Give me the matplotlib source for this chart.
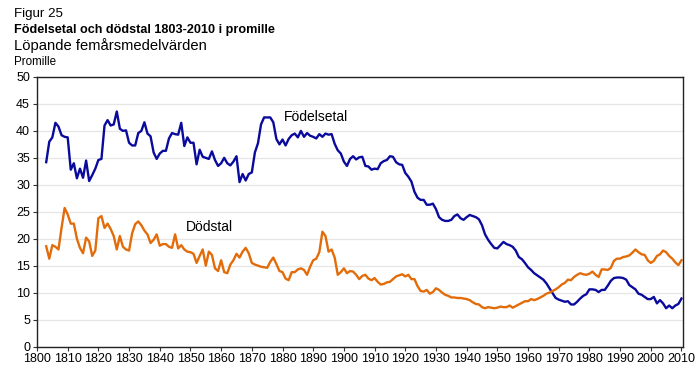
import matplotlib
matplotlib.use("Agg")
import matplotlib.pyplot as plt
import numpy as np

plt.rcParams['font.family'] = ['Liberation Sans', 'DejaVu Sans']

years = list(range(1803, 2011))

fodelsetal = [
 34.2, 38.0, 38.8, 41.5, 40.8, 39.2, 38.9, 38.8, 32.8, 34.0,  # 1803-1812
 31.2, 33.0, 31.3, 34.5, 30.7, 31.8, 33.0, 34.6, 34.8, 41.0,  # 1813-1822
 42.0, 41.0, 41.2, 43.6, 40.4, 40.0, 40.1, 37.8, 37.3, 37.3,  # 1823-1832
 39.6, 40.0, 41.6, 39.5, 39.0, 36.0, 34.8, 35.8, 36.3, 36.3,  # 1833-1842
 38.6, 39.6, 39.4, 39.3, 41.5, 37.2, 38.8, 37.8, 37.8, 33.8,  # 1843-1852
 36.5, 35.2, 35.0, 34.8, 36.2, 34.6, 33.5, 34.0, 35.0, 34.0,  # 1853-1862
 33.6, 34.3, 35.3, 30.5, 32.0, 30.8, 32.0, 32.3, 36.0, 37.7,  # 1863-1872
 41.2, 42.5, 42.5, 42.5, 41.6, 38.5, 37.5, 38.4, 37.3, 38.5,  # 1873-1882
 39.2, 39.5, 38.8, 40.0, 38.9, 39.6, 39.1, 38.9, 38.6, 39.4,  # 1883-1892
 38.9, 39.5, 39.3, 39.4, 37.6, 36.4, 35.8, 34.3, 33.5, 34.8,  # 1893-1902
 35.3, 34.7, 35.1, 35.2, 33.5, 33.4, 32.8, 33.0, 32.9, 34.0,  # 1903-1912
 34.4, 34.6, 35.3, 35.2, 34.2, 33.8, 33.7, 32.2, 31.5, 30.6,  # 1913-1922
 28.7, 27.6, 27.2, 27.2, 26.3, 26.3, 26.5, 25.5, 24.0, 23.5,  # 1923-1932
 23.3, 23.3, 23.5, 24.2, 24.5, 23.8, 23.5, 24.0, 24.4, 24.2,  # 1933-1942
 24.0, 23.6, 22.5, 20.8, 19.8, 19.0, 18.3, 18.2, 18.8, 19.4,  # 1943-1952
 19.0, 18.8, 18.5, 17.8, 16.6, 16.2, 15.5, 14.7, 14.2, 13.6,  # 1953-1962
 13.2, 12.8, 12.4, 11.7, 10.8, 9.9, 9.0, 8.7, 8.5, 8.3,       # 1963-1972
 8.4, 7.8, 7.8, 8.3, 8.9, 9.4, 9.7, 10.6, 10.6, 10.5,         # 1973-1982
 10.1, 10.5, 10.5, 11.3, 12.2, 12.7, 12.8, 12.8, 12.7, 12.4,  # 1983-1992
 11.4, 11.0, 10.6, 9.8, 9.6, 9.2, 8.8, 8.8, 9.2, 8.0,         # 1993-2002
 8.6, 8.0, 7.1, 7.6, 7.1, 7.6, 7.9, 8.9,                      # 2003-2010
]

dodstal = [
 18.6, 16.3, 18.8, 18.5, 18.0, 22.0, 25.7, 24.5, 22.8, 22.8,  # 1803-1812
 20.0, 18.3, 17.3, 20.2, 19.5, 16.8, 17.8, 23.8, 24.2, 22.0,  # 1813-1822
 22.8, 21.8, 20.5, 18.0, 20.5, 18.5, 18.0, 17.8, 21.0, 22.7,  # 1823-1832
 23.2, 22.5, 21.5, 20.8, 19.2, 19.8, 20.8, 18.7, 19.0, 19.0,  # 1833-1842
 18.5, 18.3, 20.8, 18.2, 18.8, 18.0, 17.6, 17.5, 17.2, 15.5,  # 1843-1852
 16.8, 18.0, 15.0, 17.6, 17.0, 14.5, 14.0, 16.0, 13.8, 13.6,  # 1853-1862
 15.2, 16.0, 17.2, 16.5, 17.6, 18.3, 17.3, 15.5, 15.2, 15.0,  # 1863-1872
 14.8, 14.7, 14.6, 15.7, 16.5, 15.3, 14.0, 13.8, 12.6, 12.3,  # 1873-1882
 13.8, 13.8, 14.3, 14.5, 14.2, 13.3, 14.8, 16.0, 16.3, 17.5,  # 1883-1892
 21.3, 20.5, 17.6, 18.0, 16.5, 13.3, 13.8, 14.5, 13.6, 14.0,  # 1893-1902
 13.9, 13.3, 12.5, 13.1, 13.3, 12.6, 12.3, 12.7, 12.0, 11.5,  # 1903-1912
 11.6, 11.9, 12.0, 12.5, 13.0, 13.2, 13.4, 13.0, 13.3, 12.5,  # 1913-1922
 12.5, 11.2, 10.3, 10.2, 10.5, 9.8, 10.1, 10.8, 10.5, 10.0,   # 1923-1932
 9.6, 9.4, 9.1, 9.1, 9.0, 9.0, 8.9, 8.8, 8.6, 8.2,            # 1933-1942
 7.9, 7.8, 7.3, 7.1, 7.3, 7.2, 7.1, 7.2, 7.4, 7.3,            # 1943-1952
 7.3, 7.6, 7.2, 7.5, 7.8, 8.1, 8.4, 8.4, 8.8, 8.6,            # 1953-1962
 8.8, 9.1, 9.4, 9.8, 10.0, 10.3, 10.6, 11.0, 11.5, 11.8,      # 1963-1972
 12.4, 12.3, 12.9, 13.3, 13.6, 13.4, 13.3, 13.5, 13.9, 13.3,  # 1973-1982
 12.9, 14.3, 14.3, 14.2, 14.6, 15.9, 16.3, 16.3, 16.6, 16.7,  # 1983-1992
 16.9, 17.4, 18.0, 17.5, 17.1, 17.0, 16.0, 15.5, 15.9, 16.8,  # 1993-2002
 17.1, 17.8, 17.5, 16.8, 16.3, 15.6, 15.1, 16.0,              # 2003-2010
]

blue = '#0A0A9C'
orange = '#E36C0A'

fig = plt.figure(figsize=(7.0, 3.73), dpi=100)
ax = fig.add_axes([37/700, 1 - 346.5/373, (683-37)/700, (346.5-77)/373])

ax.plot(years, fodelsetal, color=blue, lw=1.7, solid_joinstyle='round')
ax.plot(years, dodstal, color=orange, lw=1.7, solid_joinstyle='round')

ax.set_xlim(1800, 2010.5)
ax.set_ylim(0, 50)
ax.set_xticks(range(1800, 2011, 10))
ax.set_yticks(range(0, 51, 5))
ax.yaxis.grid(True, color='#e6e6e6', lw=0.9)
ax.set_axisbelow(True)
ax.tick_params(axis='both', labelsize=9, length=3, width=0.8, color='#333333', pad=2)
for s in ax.spines.values():
    s.set_color('#222222')
    s.set_linewidth(1.0)

ax.text(1880.5, 41.3, 'Födelsetal', fontsize=10, ha='left', va='bottom')
ax.text(1848.5, 20.9, 'Dödstal', fontsize=10, ha='left', va='bottom')

fig.text(14/700, 1 - 14/373, 'Figur 25', fontsize=9.6, va='center')
fig.text(14/700, 1 - 30/373, 'Födelsetal och dödstal 1803-2010 i promille', fontsize=9.1, fontweight='bold', va='center')
fig.text(14/700, 1 - 46/373, 'Löpande femårsmedelvärden', fontsize=10.6, va='center')
fig.text(14/700, 1 - 62/373, 'Promille', fontsize=8.4, va='center')

fig.savefig('out.png', dpi=100)
